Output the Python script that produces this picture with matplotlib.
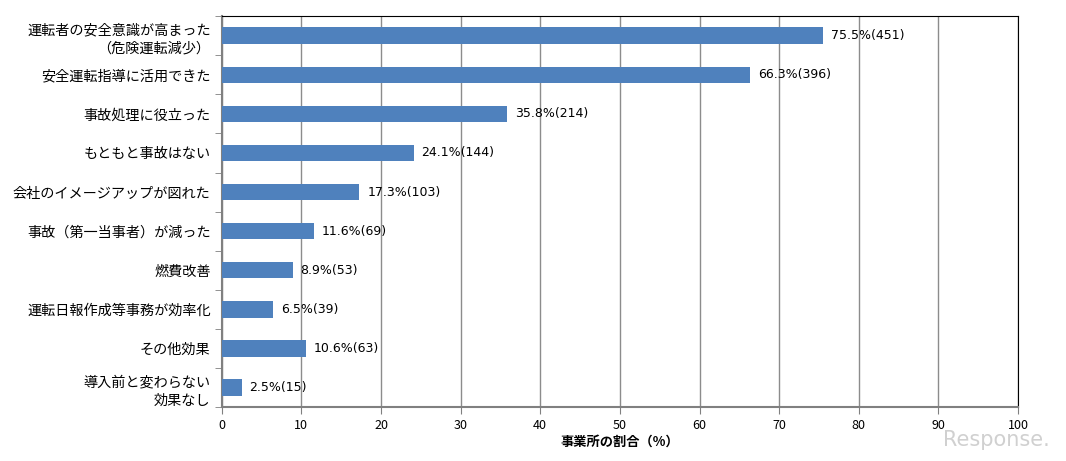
import numpy as np
import matplotlib.pyplot as plt

plt.rcParams['font.family'] = ['Noto Sans CJK JP', 'DejaVu Sans']

categories = [
    "運転者の安全意識が高まった\n（危険運転減少）",
    "安全運転指導に活用できた",
    "事故処理に役立った",
    "もともと事故はない",
    "会社のイメージアップが図れた",
    "事故（第一当事者）が減った",
    "燃費改善",
    "運転日報作成等事務が効率化",
    "その他効果",
    "導入前と変わらない\n効果なし",
]
percents = [75.5, 66.3, 35.8, 24.1, 17.3, 11.6, 8.9, 6.5, 10.6, 2.5]
counts = [451, 396, 214, 144, 103, 69, 53, 39, 63, 15]
x_ticks = list(range(0, 101, 10))

fig = plt.figure(figsize=(10.66, 4.61), dpi=100)
ax = fig.add_axes([0.208, 0.117, 0.747, 0.848])

y = np.arange(len(categories))
ax.barh(y, percents, height=0.42, color="#4F81BD", zorder=3)
for yi, p, c in zip(y, percents, counts):
    ax.text(p + 1.0, yi, f"{p}%({c})", va="center", ha="left",
            fontsize=9, family=["DejaVu Sans"], zorder=4)

ax.set_ylim(len(categories) - 0.5, -0.5)
ax.set_xlim(0, 100)
ax.set_xticks(x_ticks)
ax.set_xticklabels([str(t) for t in x_ticks], fontsize=9)
ax.set_yticks(y)
ax.set_yticklabels(categories, fontsize=10.2, linespacing=1.4)
ax.set_yticks(np.arange(-0.5, len(categories), 1), minor=True)
ax.tick_params(axis="y", which="major", length=0, pad=8)
ax.tick_params(axis="y", which="minor", length=5, color="#808080", direction="out")
ax.tick_params(axis="x", length=5, color="#808080", direction="out")

ax.xaxis.grid(True, color="#8c8c8c", linewidth=1.0, zorder=0)
ax.spines["left"].set_color("#808080")
ax.spines["bottom"].set_color("#808080")
ax.spines["left"].set_linewidth(1.5)
ax.spines["bottom"].set_linewidth(1.5)
ax.spines["top"].set_color("black")
ax.spines["right"].set_color("black")

ax.set_xlabel("事業所の割合（%）", fontsize=9.5, fontweight="bold", labelpad=2)

fig.text(0.985, 0.045, "Response.", ha="right", va="center", fontsize=15,
         color="#d0d0d0", family=["DejaVu Sans"])

fig.savefig("out.png", dpi=100, facecolor="white")
